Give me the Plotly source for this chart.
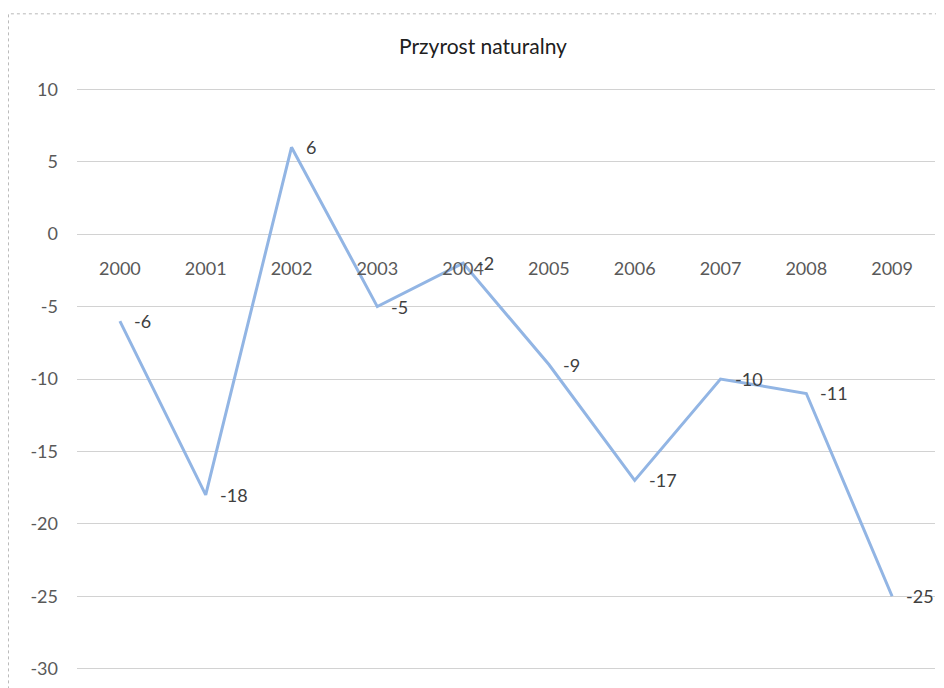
import plotly.graph_objects as go

years = ["2000", "2001", "2002", "2003", "2004", "2005", "2006", "2007", "2008", "2009"]
values = [-6, -18, 6, -5, -2, -9, -17, -10, -11, -25]
y_ticks = [10, 5, 0, -5, -10, -15, -20, -25, -30]
title_text = "Przyrost naturalny"

FONT = "Lato"
TXT = "#404040"

# page body has an 8px margin, so the figure is 936x680 and offset by 8px
W, H = 936, 680
PAD = 0.3
UNIT = 583 / 40.0
L, R = 69, 9.4
T = 81 - PAD * UNIT
B = 16 - PAD * UNIT
PW = W - L - R
PH = H - T - B
Y0, Y1 = -30 - PAD, 10 + PAD

fig = go.Figure()
fig.add_trace(go.Scatter(
    x=list(range(len(years))), y=values, mode="lines",
    line=dict(color="#92b5e4", width=3),
    hovertext=years, hoverinfo="text+y", showlegend=False,
))

annotations = []
for i, v in enumerate(values):
    annotations.append(dict(
        x=i, y=v, xref="x", yref="y", text=str(v), showarrow=False,
        xanchor="left", yanchor="middle", xshift=12,
        font=dict(family=FONT, size=18, color=TXT),
    ))

fig.update_layout(
    width=W, height=H,
    margin=dict(l=L, r=R, t=T, b=B),
    paper_bgcolor="white", plot_bgcolor="white",
    title=dict(text=title_text, x=475 / W, xref="container", xanchor="center",
               y=1 - 39 / H, yref="container", yanchor="middle",
               font=dict(family=FONT, size=21, color="#202020")),
    annotations=annotations,
    xaxis=dict(
        range=[-0.5, 9.5],
        tickvals=list(range(len(years))), ticktext=years,
        anchor="free", position=(0 - Y0) / (Y1 - Y0),
        showline=False, showgrid=False, zeroline=False,
        ticks="", ticklabelstandoff=22,
        tickfont=dict(family=FONT, size=18, color="#595959"),
    ),
    yaxis=dict(
        range=[Y0, Y1], tickvals=y_ticks, ticktext=[str(t) for t in y_ticks],
        showgrid=True, gridcolor="#d2d2d2", gridwidth=1,
        zeroline=False, showline=False, ticks="",
        ticklabelstandoff=18,
        tickfont=dict(family=FONT, size=18, color="#595959"),
    ),
    shapes=[dict(type="rect", xref="paper", yref="paper",
                 x0=(0.5 - L) / PW, x1=1.1, y0=-0.2, y1=(H - B - 5) / PH,
                 line=dict(color="#b8b8b8", width=1, dash="dot"),
                 fillcolor="rgba(0,0,0,0)", layer="below")],
)

fig.write_html("out.html")
